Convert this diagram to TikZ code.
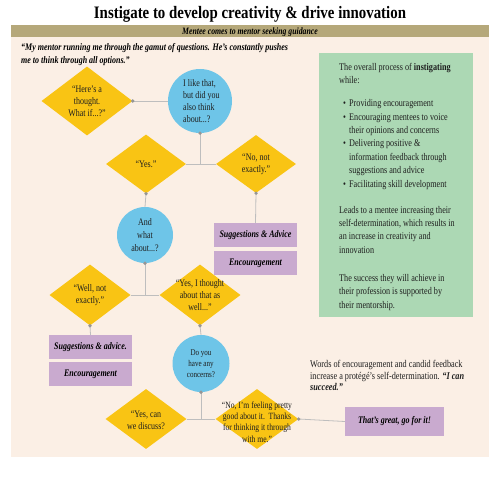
\documentclass[tikz,border=0pt]{standalone}
\usepackage{fontspec}
\setmainfont{Liberation Serif}[FakeStretch=0.8]
\newfontfamily\titlefont{Liberation Serif}[FakeStretch=0.85]
\usetikzlibrary{shapes.geometric}
\definecolor{bgc}{RGB}{251,239,229}
\definecolor{bandc}{RGB}{181,168,122}
\definecolor{diac}{RGB}{249,196,20}
\definecolor{circc}{RGB}{110,197,232}
\definecolor{boxc}{RGB}{201,170,207}
\definecolor{greenc}{RGB}{172,216,180}
\definecolor{linec}{RGB}{190,190,190}
\definecolor{dotc}{RGB}{150,150,150}
\definecolor{txtc}{RGB}{30,30,30}
\tikzset{
  dia/.style={diamond, fill=diac, inner sep=0pt},
  circ/.style={circle, fill=circc, inner sep=0pt},
  pbox/.style={rectangle, fill=boxc, inner sep=0pt, minimum width=83pt, minimum height=24pt, font=\fontsize{10}{12}\selectfont\bfseries\itshape},
  dtxt/.style={align=center, inner sep=0pt, text=txtc, font=\fontsize{10}{12}\selectfont},
  conn/.style={draw=linec, line width=0.8pt},
}
\newcommand{\dotat}[1]{\fill[dotc] (#1) circle (1.8pt);}
\newcommand{\bul}{\hspace*{4pt}\makebox[6pt][l]{•}}
\newcommand{\ind}{\hspace*{10pt}}
\begin{document}
\begin{tikzpicture}[x=1pt,y=-1pt]
\useasboundingbox (0,0) rectangle (495,495);
\fill[white] (0,0) rectangle (495,495);
% title
\node[anchor=base, inner sep=0pt, font=\titlefont\fontsize{17.5}{20}\selectfont\bfseries] (title) at (250,19) {Instigate to develop creativity \& drive innovation};
% band and background
\fill[bandc] (11,25) rectangle (489,37);
\fill[bgc] (11,37) rectangle (489,457);
\node[anchor=base, inner sep=0pt, font=\fontsize{9.7}{11}\selectfont\bfseries\itshape] (band) at (250,34.5) {Mentee comes to mentor seeking guidance};
% quote
\node[anchor=north west, inner sep=0pt, align=left, font=\fontsize{10}{13}\selectfont\bfseries\itshape] (quote) at (21,43) {“My mentor running me through the gamut of questions. He’s constantly pushes\\me to think through all options.”};
% green box
\fill[greenc] (319,53) rectangle (473,317);
\node[anchor=north west, inner sep=0pt, align=left, text=txtc, font=\fontsize{10.2}{13.4}\selectfont] (green) at (339,63) {%
The overall process of \textbf{instigating}\\
while:\\[9.6pt]
\bul Providing encouragement\\
\bul Encouraging mentees to voice\\
\ind their opinions and concerns\\
\bul Delivering positive \&\\
\ind information feedback through\\
\ind suggestions and advice\\
\bul Facilitating skill development\\[12.6pt]
Leads to a mentee increasing their\\
self-determination, which results in\\
an increase in creativity and\\
innovation\\[14.6pt]
The success they will achieve in\\
their profession is supported by\\
their mentorship.};
% words text
\node[anchor=north west, inner sep=0pt, align=left, text=txtc, font=\fontsize{10.3}{11.7}\selectfont] (words) at (310,360) {Words of encouragement and candid feedback\\increase a protégé’s self-determination. \textbf{\textit{“I can}}\\\textbf{\textit{succeed.”}}};
% shapes
\node[dia, minimum width=91pt, minimum height=69pt] (d1) at (87,101) {};
\node[circ, minimum size=64pt] (c1) at (200,101) {};
\node[dia, minimum width=80pt, minimum height=59pt] (d2) at (146,164) {};
\node[dia, minimum width=80pt, minimum height=58pt] (d3) at (256,164) {};
\node[circ, minimum size=56pt] (c2) at (145,235) {};
\node[pbox] (b1) at (255.5,235) {Suggestions \& Advice};
\node[pbox] (b2) at (255.5,263) {Encouragement};
\node[dia, minimum width=81pt, minimum height=61pt] (d4) at (90,295) {};
\node[dia, minimum width=81pt, minimum height=61pt] (d5) at (200,295) {};
\node[pbox] (b3) at (90.5,347) {Suggestions \& advice.};
\node[pbox] (b4) at (90.5,374) {Encouragement};
\node[circ, minimum size=57pt] (c3) at (201,363.5) {};
\node[dia, minimum width=81pt, minimum height=60pt] (d6) at (146,419) {};
\node[dia, minimum width=83pt, minimum height=60pt] (d7) at (257,419) {};
\node[pbox, minimum width=99pt, minimum height=29pt] (b5) at (394.5,421.5) {That’s great, go for it!};
% texts in shapes
\node[dtxt] (t1) at (d1) {“Here’s a\\thought.\\What if...?”};
\node[dtxt, align=left, anchor=west] (tc1) at (183,101.5) {I like that,\\but did you\\also think\\about...?};
\node[dtxt] (t2) at (d2) {“Yes.”};
\node[dtxt] (t3) at (d3) {“No, not\\exactly.”};
\node[dtxt, font=\fontsize{10}{13}\selectfont] (tc2) at (c2) {And\\what\\about...?};
\node[dtxt] (t4) at (d4) {“Well, not\\exactly.”};
\node[dtxt] (t5) at (d5) {“Yes, I thought\\about that as\\well...”};
\node[dtxt, font=\fontsize{8.8}{11}\selectfont] (tc3) at (c3) {Do you\\have any\\concerns?};
\node[dtxt] (t6) at ([yshift=-1pt]d6.center) {“Yes, can\\we discuss?};
\node[dtxt, font=\fontsize{9.5}{11.3}\selectfont] (t7) at ([yshift=-3pt]d7.center) {“No, I’m feeling pretty\\good about it.\ \ Thanks\\for thinking it through\\with me.”};
% connectors
\draw[conn] (d1.east) -- (c1.west);
\draw[conn] (c1.south) -- (c1.south |- d2.east);
\draw[conn] (d2.east) -- (d3.west);
\draw[conn] (d2.south) -- (c2.north);
\draw[conn] (d3.south) -- (b1.north);
\draw[conn] (c2.south) -- (c2.south |- d4.east);
\draw[conn] (d4.east) -- (d5.west);
\draw[conn] (d4.south) -- (b3.north);
\draw[conn] (d5.south) -- (c3.north);
\draw[conn] (c3.south) -- (c3.south |- d6.east);
\draw[conn] (d6.east) -- (d7.west);
\draw[conn] (d7.east) -- (b5.west);
\dotat{d1.east}
\dotat{c1.south}
\dotat{d2.south}
\dotat{d3.south}
\dotat{c2.south}
\dotat{d4.south}
\dotat{d5.south}
\dotat{c3.south}
\dotat{d7.east}
\end{tikzpicture}
\end{document}
